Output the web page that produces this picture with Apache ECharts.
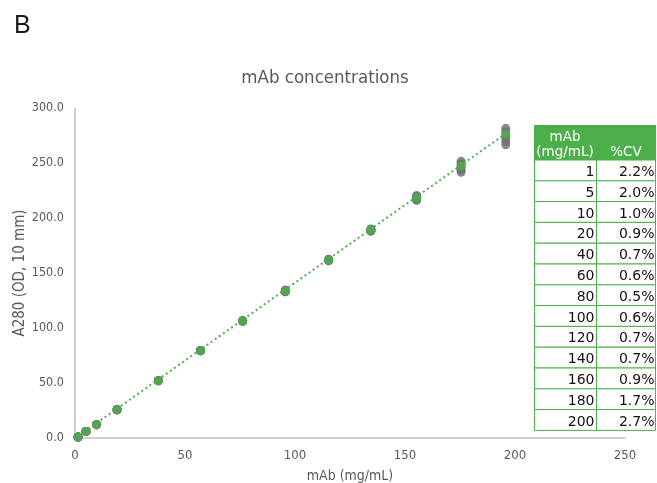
<!DOCTYPE html>
<html>
<head>
<meta charset="utf-8">
<script src="https://cdn.jsdelivr.net/npm/echarts@6/dist/echarts.min.js"></script>
<style>html,body{margin:0;padding:0;background:#fff;}#c{width:657px;height:483px;}</style>
</head>
<body>
<div id="c"></div>
<script>
// Measured concentrations (x) and mean A280 (y)
var xVals = [1.4, 5.0, 9.8, 19.1, 37.9, 57.1, 76.2, 95.6, 115.3, 134.5, 155.3, 175.5, 195.8];
var meanVals = [0.9, 6.0, 12.1, 25.7, 52.1, 79.4, 106.4, 133.6, 161.8, 189.0, 218.5, 247.3, 276.0];
// Replicates (gray)
var rep1 = [0.9, 6.0, 12.1, 25.7, 52.2, 79.6, 106.6, 134.5, 162.5, 190.0, 220.5, 251.5, 281.5];
var rep2 = [0.9, 6.0, 12.1, 25.7, 52.1, 79.5, 106.5, 134.0, 162.0, 189.5, 219.5, 249.5, 278.5];
var rep3 = [0.9, 6.0, 12.1, 25.6, 52.1, 79.4, 106.4, 133.5, 162.0, 189.0, 218.5, 247.5, 275.5];
var rep4 = [0.9, 6.0, 12.1, 25.7, 52.0, 79.3, 106.3, 133.5, 161.5, 189.0, 218.0, 245.5, 272.5];
var rep5 = [0.9, 6.0, 12.1, 25.7, 52.0, 79.3, 106.3, 133.0, 161.5, 188.5, 217.0, 243.5, 269.5];
var rep6 = [0.9, 6.0, 12.1, 25.7, 52.1, 79.3, 106.3, 133.0, 161.0, 188.0, 216.0, 241.5, 266.5];
// Linear trendline endpoints
var trendX = [0.5, 196.0];
var trendY = [0.3, 277.0];
// Table
var tableConc = ['1', '5', '10', '20', '40', '60', '80', '100', '120', '140', '160', '180', '200'];
var tableCV = ['2.2%', '2.0%', '1.0%', '0.9%', '0.7%', '0.6%', '0.5%', '0.6%', '0.7%', '0.7%', '0.9%', '1.7%', '2.7%'];
var tableHeader = ['mAb', '(mg/mL)', '%CV'];

var FONT = "'DejaVu Sans Condensed', 'DejaVu Sans', sans-serif";
var TFONT = "'DejaVu Sans', sans-serif";
var GREEN = '#4daf4a';
var GRAY = '#6f6f73';

function pairs(xs, ys) { return xs.map(function (x, i) { return [x, ys[i]]; }); }

var reps = [rep1, rep2, rep3, rep4, rep5, rep6];
var series = reps.map(function (r) {
  return {
    type: 'scatter', data: pairs(xVals, r), symbolSize: 9, z: 2,
    itemStyle: { color: GRAY }, silent: true
  };
});
series.push({
  type: 'line', data: pairs(trendX, trendY), showSymbol: false, z: 3,
  lineStyle: { color: GREEN, width: 2, type: [2, 3] }, silent: true
});
series.push({
  type: 'scatter', data: pairs(xVals, meanVals), symbolSize: 9, z: 4,
  itemStyle: { color: GREEN }, silent: true
});

// Table graphics
var tX = 534, tY = 125, c1 = 62, c2 = 60, hH = 35, rH = 20.8;
var g = [];
g.push({ type: 'rect', shape: { x: tX, y: tY, width: c1 + c2, height: hH }, style: { fill: GREEN }, z: 100 });
g.push({ type: 'text', x: tX + c1 / 2, y: 137, style: { text: tableHeader[0], fill: '#fff', font: '13.5px ' + TFONT, textAlign: 'center', textVerticalAlign: 'middle' }, z: 101 });
g.push({ type: 'text', x: tX + c1 / 2, y: 152, style: { text: tableHeader[1], fill: '#fff', font: '13.5px ' + TFONT, textAlign: 'center', textVerticalAlign: 'middle' }, z: 101 });
g.push({ type: 'text', x: tX + c1 + c2 / 2, y: 152, style: { text: tableHeader[2], fill: '#fff', font: '13.5px ' + TFONT, textAlign: 'center', textVerticalAlign: 'middle' }, z: 101 });
tableConc.forEach(function (v, i) {
  var y = tY + hH + i * rH;
  g.push({ type: 'rect', shape: { x: tX + 0.5, y: y, width: c1, height: rH }, style: { fill: '#fff', stroke: GREEN, lineWidth: 1 }, z: 100 });
  g.push({ type: 'rect', shape: { x: tX + c1 + 0.5, y: y, width: c2 - 1, height: rH }, style: { fill: '#fff', stroke: GREEN, lineWidth: 1 }, z: 100 });
  g.push({ type: 'text', x: tX + c1 - 1.5, y: y + rH - 1.5, style: { text: v, fill: '#111', font: '14px ' + TFONT, textAlign: 'right', textVerticalAlign: 'bottom' }, z: 101 });
  g.push({ type: 'text', x: tX + c1 + c2 - 1.5, y: y + rH - 1.5, style: { text: tableCV[i], fill: '#111', font: '14px ' + TFONT, textAlign: 'right', textVerticalAlign: 'bottom' }, z: 101 });
});
g.push({ type: 'text', x: 14, y: 14, style: { text: 'B', fill: '#1a1a1a', font: '25px Liberation Sans, Arial, sans-serif', textAlign: 'left', textVerticalAlign: 'top' }, z: 101 });

var chart = echarts.init(document.getElementById('c'), null, { renderer: 'canvas' });
chart.setOption({
  animation: false,
  backgroundColor: '#fff',
  textStyle: { fontFamily: FONT },
  title: {
    text: 'mAb concentrations', left: 320, top: 64, textAlign: 'center',
    textStyle: { fontFamily: FONT, fontSize: 18.5, fontWeight: 'normal', color: '#595959' }
  },
  grid: { left: 75, right: 32, top: 108, bottom: 45, containLabel: false, outerBoundsMode: 'none' },
  xAxis: {
    type: 'value', min: 0, max: 250, interval: 50,
    name: 'mAb (mg/mL)', nameLocation: 'middle', nameGap: 31,
    nameTextStyle: { fontFamily: FONT, fontSize: 14, color: '#595959' },
    axisLine: { show: true, lineStyle: { color: '#bfbfbf', width: 1.5 } },
    axisTick: { show: false }, splitLine: { show: false },
    axisLabel: { fontFamily: FONT, fontSize: 13, color: '#595959', margin: 11 }
  },
  yAxis: {
    type: 'value', min: 0, max: 300, interval: 50,
    name: 'A280 (OD, 10 mm)', nameLocation: 'middle', nameGap: 47, nameRotate: 90,
    nameMoveOverlap: false,
    nameTextStyle: { fontFamily: FONT, fontSize: 15, color: '#595959' },
    axisLine: { show: true, lineStyle: { color: '#bfbfbf', width: 1.5 } },
    axisTick: { show: false }, splitLine: { show: false },
    axisLabel: { fontFamily: FONT, fontSize: 12.5, color: '#595959', margin: 11, formatter: function (v) { return v.toFixed(1); } }
  },
  series: series,
  graphic: g
});
</script>
</body>
</html>
